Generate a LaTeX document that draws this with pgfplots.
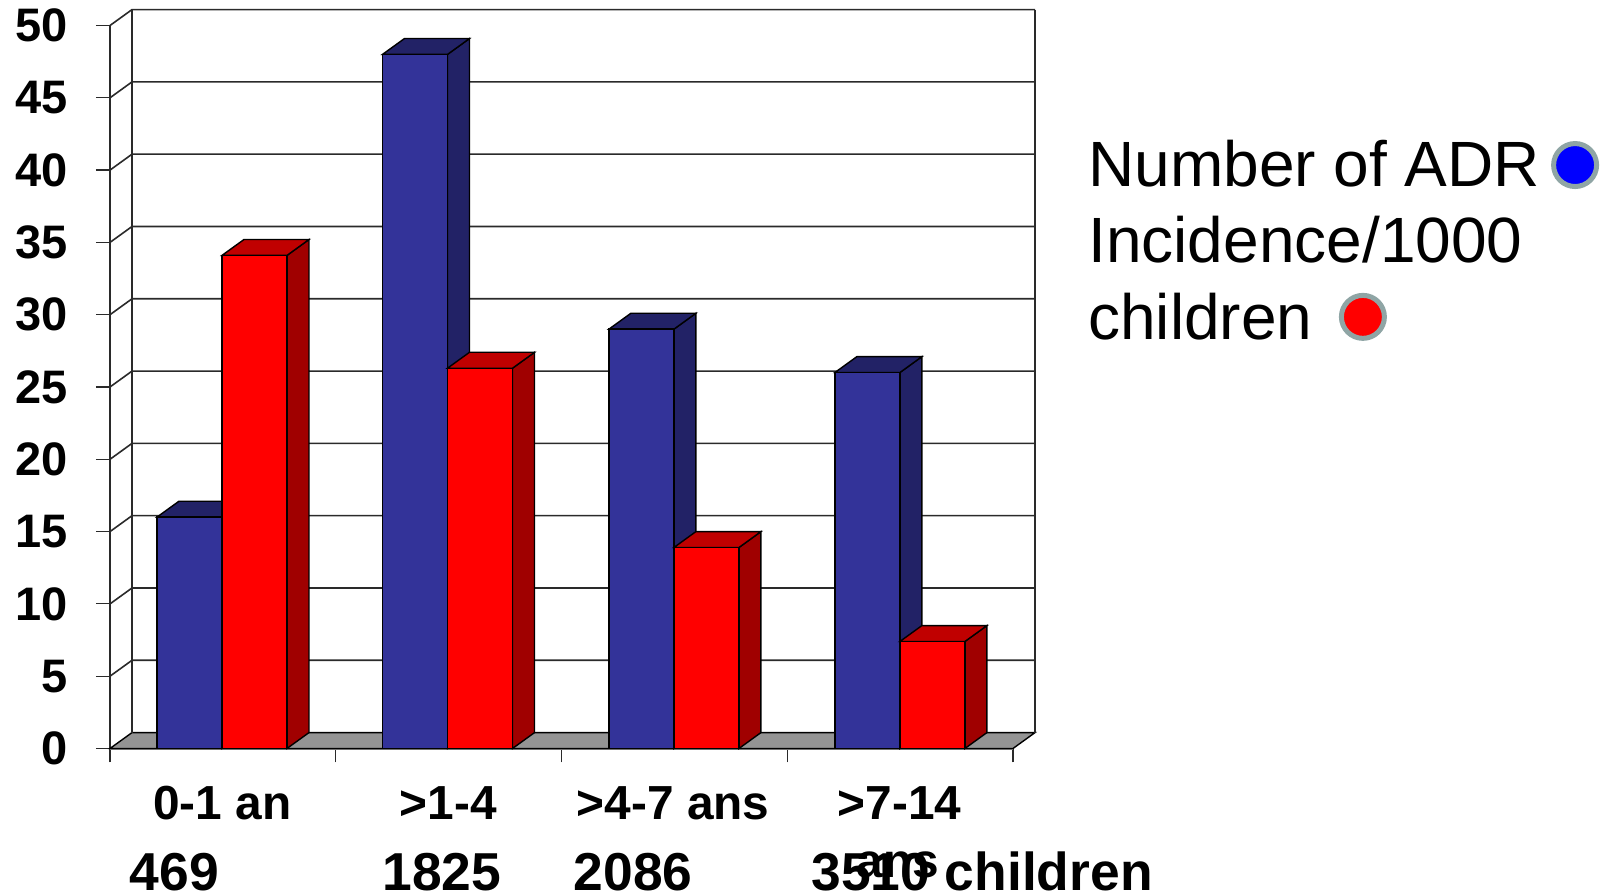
\documentclass[border=0pt]{standalone}
\usepackage{fontspec}
\setmainfont{Liberation Sans}
\usepackage{pgfplots}
\pgfplotsset{compat=1.18}

\definecolor{adrfront}{HTML}{333399}
\definecolor{adrdark}{HTML}{222266}
\definecolor{incfront}{HTML}{FF0000}
\definecolor{inctop}{HTML}{C00000}
\definecolor{incside}{HTML}{A00000}
\definecolor{floorgray}{HTML}{949494}
\definecolor{wallline}{HTML}{2A2A2A}
\definecolor{dotring}{HTML}{8FA5A5}

% depth of the 3D projection, in axis units
\def\dx{0.0975}
\def\dy{1.1}
\def\bw{0.288}

% one 3D bar: left edge, value, front, top and side colours
\newcommand{\bardd}[5]{%
  \pgfmathsetmacro\xl{#1}%
  \pgfmathsetmacro\xr{#1+\bw}%
  \pgfmathsetmacro\xlb{#1+\dx}%
  \pgfmathsetmacro\xrb{#1+\bw+\dx}%
  \pgfmathsetmacro\yt{#2+\dy}%
  \addplot[fill=#5,draw=black,line width=0.7pt] coordinates {(\xr,0) (\xrb,\dy) (\xrb,\yt) (\xr,#2)} -- cycle;
  \addplot[fill=#4,draw=black,line width=0.7pt] coordinates {(\xl,#2) (\xlb,\yt) (\xrb,\yt) (\xr,#2)} -- cycle;
  \addplot[fill=#3,draw=black,line width=0.7pt] coordinates {(\xl,0) (\xl,#2) (\xr,#2) (\xr,0)} -- cycle;
}

\begin{document}
\begin{tikzpicture}
\path[use as bounding box] (-55pt,-72.75pt) rectangle (749pt,374.25pt);
\begin{axis}[
  at={(0,0)}, anchor=south west,
  scale only axis, width=451.5pt, height=361.5pt,
  xmin=0, xmax=4, ymin=0, ymax=50,
  clip=false,
  axis x line=bottom, axis y line=left,
  axis line style={-, draw=wallline, line width=0.7pt},
  x axis line style={draw=gray, line width=1.2pt},
  tick align=outside, major tick length=7pt,
  tick style={draw=wallline, line width=0.6pt},
  xtick={0,1,2,3,4}, xticklabels={},
  ytick={0,5,...,50},
  /pgf/number format/assume math mode=true,
  yticklabel style={font=\fontsize{23.5}{23.5}\selectfont\bfseries, inner sep=0pt, xshift=-14pt},
]
% floor of the chart box
\addplot[fill=floorgray,draw=black,line width=0.7pt] coordinates {(0,0) (4,0) (4.0975,1.1) (0.0975,1.1)} -- cycle;
% back wall and side wall
\addplot[draw=wallline,line width=0.9pt] coordinates {(0.0975,1.1) (0.0975,51.1)};
\addplot[draw=wallline,line width=0.9pt] coordinates {(4.0975,1.1) (4.0975,51.1)};
\pgfplotsinvokeforeach{5,10,...,50}{%
  \pgfmathsetmacro\yb{#1+\dy}%
  \addplot[draw=wallline,line width=0.8pt] coordinates {(0,#1) (\dx,\yb) (4.0975,\yb)};
}
% Number of ADR
\bardd{0.208}{16}{adrfront}{adrdark}{adrdark}
\bardd{1.207}{48}{adrfront}{adrdark}{adrdark}
\bardd{2.21}{29}{adrfront}{adrdark}{adrdark}
\bardd{3.211}{26}{adrfront}{adrdark}{adrdark}
% Incidence per 1000 children
\bardd{0.496}{34.1}{incfront}{inctop}{incside}
\bardd{1.495}{26.3}{incfront}{inctop}{incside}
\bardd{2.498}{13.9}{incfront}{inctop}{incside}
\bardd{3.499}{7.4}{incfront}{inctop}{incside}

% category names
\begin{scope}[every node/.style={font=\fontsize{23.9}{23.9}\selectfont\bfseries, anchor=base, inner sep=0pt}]
\node at (axis cs:0.497,-4.9) {0-1 an};
\node at (axis cs:1.499,-4.9) {>1-4};
\node at (axis cs:2.495,-4.9) {>4-7 ans};
\node at (axis cs:3.497,-4.9) {>7-14};
\node at (axis cs:3.49,-8.9) {ans};
\end{scope}
% numbers of children
\begin{scope}[every node/.style={font=\fontsize{26.7}{26.7}\selectfont\bfseries, anchor=base, inner sep=0pt}]
\node at (axis cs:0.285,-9.85) {469};
\node at (axis cs:1.47,-9.85) {1825};
\node at (axis cs:2.318,-9.85) {2086};
\node[anchor=base west] at (axis cs:3.105,-9.85) {3510 children};
\end{scope}
% key
\begin{scope}[every node/.style={font=\fontsize{32}{32}\selectfont, anchor=base west, inner sep=0pt}]
\node at (axis cs:4.332,38.9) {Number of ADR};
\node at (axis cs:4.332,33.6) {Incidence/1000};
\node at (axis cs:4.332,28.3) {children};
\end{scope}
\node[circle,fill=blue,draw=dotring,line width=2.5pt,minimum size=21.5pt,inner sep=0pt] at (axis cs:6.49,40.35) {};
\node[circle,fill=red,draw=dotring,line width=2.5pt,minimum size=21.5pt,inner sep=0pt] at (axis cs:5.55,29.85) {};
\end{axis}
\end{tikzpicture}
\end{document}
